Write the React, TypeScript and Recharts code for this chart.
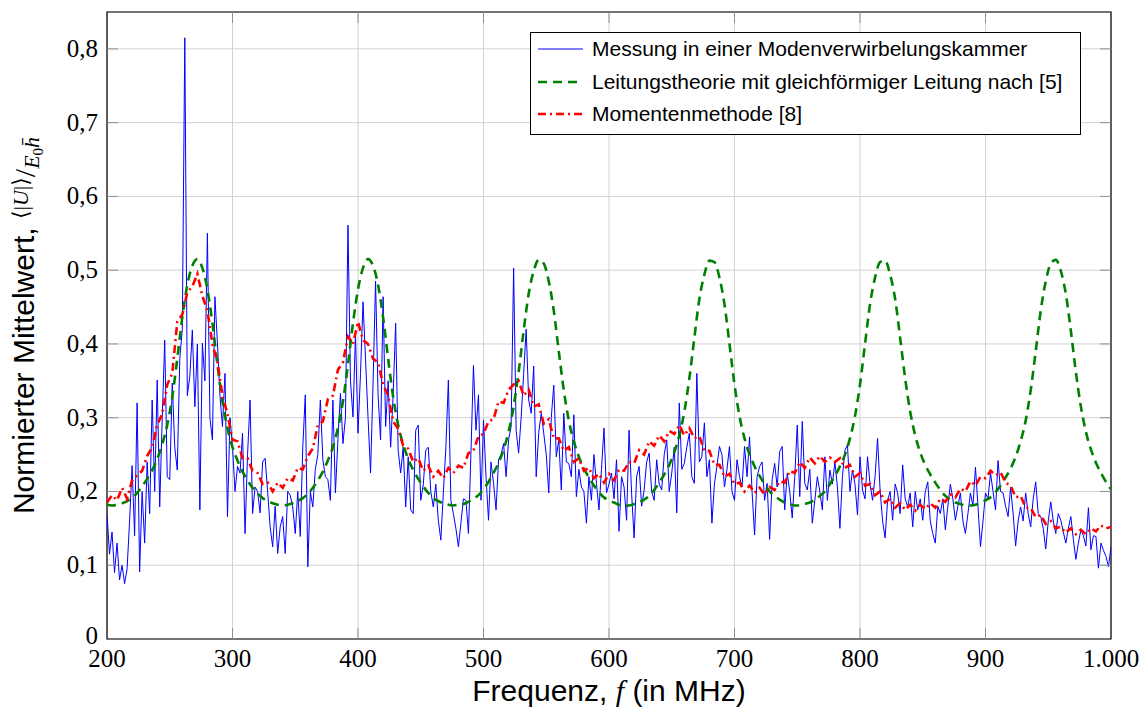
import { CartesianGrid, Line, LineChart, ReferenceArea, XAxis, YAxis } from "recharts";

// Messung in einer Modenverwirbelungskammer, 2 MHz raster ab 200 MHz
const MEASURED = [
  0.17, 0.115, 0.145, 0.09, 0.13, 0.08, 0.1, 0.075, 0.095, 0.16,
  0.235, 0.14, 0.32, 0.091, 0.2, 0.13, 0.24, 0.17, 0.324, 0.2,
  0.351, 0.179, 0.3, 0.405, 0.22, 0.216, 0.347, 0.26, 0.229, 0.38,
  0.42, 0.815, 0.33, 0.356, 0.419, 0.315, 0.4, 0.175, 0.401, 0.35,
  0.55, 0.3, 0.27, 0.464, 0.401, 0.33, 0.288, 0.36, 0.166, 0.3,
  0.261, 0.2, 0.234, 0.225, 0.279, 0.143, 0.25, 0.324, 0.17, 0.206,
  0.2, 0.171, 0.24, 0.245, 0.2, 0.152, 0.125, 0.18, 0.116, 0.152,
  0.166, 0.116, 0.2, 0.195, 0.179, 0.143, 0.2, 0.139, 0.26, 0.331,
  0.098, 0.2, 0.179, 0.23, 0.25, 0.324, 0.243, 0.22, 0.216, 0.188,
  0.324, 0.198, 0.27, 0.333, 0.265, 0.3, 0.561, 0.35, 0.301, 0.414,
  0.279, 0.36, 0.457, 0.38, 0.3, 0.225, 0.347, 0.485, 0.33, 0.27,
  0.464, 0.288, 0.35, 0.26, 0.33, 0.428, 0.256, 0.225, 0.26, 0.179,
  0.247, 0.175, 0.17, 0.283, 0.29, 0.188, 0.209, 0.256, 0.26, 0.2,
  0.179, 0.21, 0.161, 0.134, 0.198, 0.259, 0.351, 0.188, 0.17, 0.15,
  0.125, 0.157, 0.19, 0.188, 0.143, 0.252, 0.371, 0.283, 0.331, 0.188,
  0.297, 0.22, 0.161, 0.24, 0.211, 0.175, 0.243, 0.25, 0.265, 0.22,
  0.27, 0.288, 0.503, 0.283, 0.252, 0.3, 0.36, 0.42, 0.324, 0.306,
  0.37, 0.22, 0.28, 0.306, 0.279, 0.25, 0.198, 0.3, 0.344, 0.247,
  0.27, 0.202, 0.306, 0.24, 0.238, 0.22, 0.304, 0.193, 0.23, 0.206,
  0.2, 0.157, 0.22, 0.188, 0.25, 0.211, 0.175, 0.23, 0.286, 0.198,
  0.21, 0.225, 0.19, 0.243, 0.146, 0.22, 0.206, 0.161, 0.283, 0.198,
  0.137, 0.22, 0.234, 0.18, 0.202, 0.24, 0.252, 0.2, 0.188, 0.243,
  0.21, 0.202, 0.25, 0.27, 0.2, 0.225, 0.26, 0.171, 0.32, 0.23,
  0.238, 0.26, 0.279, 0.22, 0.211, 0.36, 0.24, 0.247, 0.293, 0.22,
  0.243, 0.157, 0.21, 0.234, 0.261, 0.25, 0.206, 0.23, 0.261, 0.2,
  0.188, 0.243, 0.22, 0.206, 0.261, 0.22, 0.274, 0.2, 0.141, 0.22,
  0.234, 0.24, 0.188, 0.211, 0.135, 0.216, 0.238, 0.206, 0.254, 0.261,
  0.175, 0.225, 0.2, 0.164, 0.22, 0.29, 0.193, 0.295, 0.211, 0.202,
  0.23, 0.157, 0.188, 0.22, 0.2, 0.175, 0.247, 0.188, 0.229, 0.21,
  0.24, 0.206, 0.15, 0.22, 0.256, 0.263, 0.2, 0.229, 0.21, 0.168,
  0.247, 0.202, 0.19, 0.247, 0.21, 0.188, 0.22, 0.272, 0.202, 0.16,
  0.137, 0.188, 0.2, 0.161, 0.21, 0.198, 0.17, 0.236, 0.19, 0.179,
  0.198, 0.152, 0.2, 0.175, 0.19, 0.161, 0.2, 0.213, 0.16, 0.143,
  0.13, 0.18, 0.17, 0.19, 0.148, 0.18, 0.21, 0.19, 0.161, 0.18,
  0.198, 0.16, 0.143, 0.17, 0.198, 0.18, 0.233, 0.18, 0.125, 0.16,
  0.198, 0.19, 0.225, 0.2, 0.175, 0.242, 0.2, 0.198, 0.18, 0.166,
  0.206, 0.17, 0.126, 0.16, 0.179, 0.16, 0.198, 0.17, 0.152, 0.19,
  0.213, 0.17, 0.166, 0.15, 0.122, 0.16, 0.186, 0.16, 0.143, 0.17,
  0.161, 0.145, 0.13, 0.15, 0.166, 0.135, 0.108, 0.13, 0.148, 0.14,
  0.126, 0.178, 0.121, 0.14, 0.139, 0.096, 0.13, 0.12, 0.112, 0.098,
  0.125,
];

// Leitungstheorie, 4 MHz raster ab 200 MHz
const LINE_THEORY = [
  0.182, 0.181, 0.182, 0.184, 0.187, 0.191, 0.198, 0.207, 0.217, 0.229,
  0.244, 0.264, 0.29, 0.328, 0.38, 0.436, 0.48, 0.506, 0.515, 0.503,
  0.474, 0.428, 0.372, 0.322, 0.286, 0.26, 0.242, 0.227, 0.215, 0.205,
  0.197, 0.191, 0.187, 0.184, 0.182, 0.181, 0.182, 0.184, 0.187, 0.191,
  0.197, 0.205, 0.215, 0.227, 0.242, 0.26, 0.286, 0.322, 0.372, 0.428,
  0.474, 0.503, 0.515, 0.506, 0.48, 0.436, 0.38, 0.328, 0.29, 0.264,
  0.244, 0.229, 0.217, 0.207, 0.198, 0.191, 0.187, 0.184, 0.182, 0.181,
  0.182, 0.183, 0.186, 0.19, 0.195, 0.203, 0.213, 0.225, 0.239, 0.257,
  0.281, 0.315, 0.362, 0.418, 0.468, 0.499, 0.514, 0.509, 0.485, 0.445,
  0.39, 0.337, 0.296, 0.268, 0.247, 0.231, 0.219, 0.208, 0.199, 0.192,
  0.188, 0.185, 0.182, 0.181, 0.181, 0.183, 0.185, 0.189, 0.194, 0.202,
  0.212, 0.223, 0.236, 0.253, 0.276, 0.308, 0.353, 0.408, 0.461, 0.494,
  0.513, 0.511, 0.49, 0.454, 0.4, 0.345, 0.302, 0.272, 0.25, 0.234,
  0.221, 0.21, 0.2, 0.194, 0.189, 0.185, 0.183, 0.181, 0.181, 0.183,
  0.185, 0.189, 0.194, 0.2, 0.21, 0.221, 0.234, 0.25, 0.272, 0.302,
  0.345, 0.4, 0.454, 0.49, 0.511, 0.513, 0.494, 0.461, 0.408, 0.353,
  0.308, 0.276, 0.253, 0.236, 0.223, 0.212, 0.202, 0.194, 0.189, 0.185,
  0.183, 0.181, 0.181, 0.182, 0.185, 0.188, 0.192, 0.199, 0.208, 0.219,
  0.231, 0.247, 0.268, 0.296, 0.337, 0.39, 0.445, 0.485, 0.509, 0.514,
  0.499, 0.468, 0.418, 0.362, 0.315, 0.281, 0.257, 0.239, 0.225, 0.213,
  0.203,
];

// Momentenmethode, 4 MHz raster ab 200 MHz
const MOM = [
  0.185, 0.195, 0.188, 0.205, 0.19, 0.215, 0.222, 0.228, 0.248, 0.26,
  0.29, 0.305, 0.345, 0.36, 0.43, 0.44, 0.47, 0.478, 0.495, 0.465,
  0.445, 0.4, 0.375, 0.33, 0.305, 0.27, 0.268, 0.245, 0.245, 0.228,
  0.225, 0.21, 0.212, 0.2, 0.212, 0.205, 0.218, 0.215, 0.232, 0.23,
  0.248, 0.258, 0.29, 0.295, 0.325, 0.33, 0.365, 0.375, 0.41, 0.4,
  0.43, 0.405, 0.4, 0.38, 0.375, 0.345, 0.33, 0.295, 0.285, 0.262,
  0.258, 0.24, 0.245, 0.228, 0.235, 0.22, 0.228, 0.218, 0.232, 0.225,
  0.235, 0.232, 0.252, 0.255, 0.275, 0.278, 0.295, 0.298, 0.322, 0.32,
  0.338, 0.345, 0.35, 0.33, 0.338, 0.315, 0.318, 0.292, 0.298, 0.272,
  0.272, 0.255, 0.26, 0.24, 0.245, 0.228, 0.232, 0.218, 0.224, 0.212,
  0.224, 0.215, 0.23, 0.228, 0.24, 0.238, 0.256, 0.25, 0.268, 0.262,
  0.276, 0.268, 0.282, 0.278, 0.29, 0.276, 0.286, 0.272, 0.275, 0.255,
  0.255, 0.236, 0.236, 0.22, 0.224, 0.21, 0.212, 0.2, 0.208, 0.198,
  0.205, 0.196, 0.206, 0.202, 0.214, 0.212, 0.228, 0.225, 0.24, 0.232,
  0.246, 0.238, 0.248, 0.24, 0.246, 0.24, 0.245, 0.232, 0.236, 0.22,
  0.225, 0.208, 0.21, 0.195, 0.2, 0.185, 0.19, 0.178, 0.184, 0.175,
  0.182, 0.174, 0.182, 0.176, 0.184, 0.178, 0.19, 0.186, 0.196, 0.192,
  0.204, 0.2, 0.214, 0.208, 0.22, 0.218, 0.228, 0.222, 0.226, 0.212,
  0.208, 0.192, 0.194, 0.178, 0.178, 0.165, 0.168, 0.156, 0.16, 0.15,
  0.152, 0.144, 0.15, 0.142, 0.148, 0.142, 0.15, 0.146, 0.154, 0.15,
  0.152,
];

const X_TICKS = [200, 300, 400, 500, 600, 700, 800, 900, 1000];
const Y_TICKS = [0, 0.1, 0.2, 0.3, 0.4, 0.5, 0.6, 0.7, 0.8];

const measuredData = MEASURED.map((v, i) => ({ f: 200 + 2 * i, v }));
const theoryData = LINE_THEORY.map((v, i) => ({ f: 200 + 4 * i, v }));
const momData = MOM.map((v, i) => ({ f: 200 + 4 * i, v }));

const SANS = "'Liberation Sans', Arial, Helvetica, sans-serif";
const SERIF = "'Liberation Serif', 'DejaVu Serif', serif";

const W = 1132;
const H = 700;
const PLOT = { left: 99, right: 1103, top: 4, bottom: 631 };
const TICK_LEN = 11;
const TICK_COLOR = "#8f8f8f";

const SERIES = [
  { name: "Messung in einer Modenverwirbelungskammer", data: measuredData, color: "#0000ff", width: 1, dash: undefined, type: "linear" },
  { name: "Leitungstheorie mit gleichförmiger Leitung nach [5]", data: theoryData, color: "#008000", width: 2.6, dash: "9 6", type: "monotone" },
  { name: "Momentenmethode [8]", data: momData, color: "#ff0000", width: 2.6, dash: "8 4 2 4", type: "linear" },
] as const;

function fmtX(v: number) {
  return v === 1000 ? "1.000" : String(v);
}

function fmtY(v: number) {
  return v === 0 ? "0" : v.toFixed(1).replace(".", ",");
}

function XTick({ x, payload }: any) {
  const v = payload.value;
  const edge = v === 200 || v === 1000;
  return (
    <g>
      {!edge && <line x1={x} x2={x} y1={PLOT.bottom} y2={PLOT.bottom - TICK_LEN} stroke={TICK_COLOR} />}
      {!edge && <line x1={x} x2={x} y1={PLOT.top} y2={PLOT.top + TICK_LEN} stroke={TICK_COLOR} />}
      <text x={x} y={PLOT.bottom + 28} textAnchor="middle" fontFamily={SERIF} fontSize={25} fill="#000">
        {fmtX(v)}
      </text>
    </g>
  );
}

function YTick({ y, payload }: any) {
  const v = payload.value;
  return (
    <g>
      {v !== 0 && <line x1={PLOT.left} x2={PLOT.left + TICK_LEN} y1={y} y2={y} stroke={TICK_COLOR} />}
      {v !== 0 && <line x1={PLOT.right - TICK_LEN} x2={PLOT.right} y1={y} y2={y} stroke={TICK_COLOR} />}
      <text x={PLOT.left - 9} y={v === 0 ? y + 5 : y + 8} textAnchor="end" fontFamily={SERIF} fontSize={25} fill="#000">
        {fmtY(v)}
      </text>
    </g>
  );
}

function XTitle() {
  const cx = (PLOT.left + PLOT.right) / 2;
  return (
    <text x={cx} y={PLOT.bottom + 62} textAnchor="middle" fontFamily={SANS} fontSize={30} fill="#000">
      {"Frequenz, "}
      <tspan fontFamily={SERIF} fontStyle="italic">f</tspan>
      {" (in MHz)"}
    </text>
  );
}

function YTitle() {
  const cy = (PLOT.top + PLOT.bottom) / 2;
  return (
    <text transform={`translate(26,${cy}) rotate(-90)`} textAnchor="middle" fontFamily={SANS} fontSize={30} fill="#000">
      {"Normierter Mittelwert, "}
      <tspan fontFamily={SERIF} fontSize={22} dy={-6}>
        {"⟨|"}
        <tspan fontStyle="italic">U</tspan>
        {"|⟩"}
      </tspan>
      <tspan fontFamily={SERIF} fontSize={30} dy={7}>/</tspan>
      <tspan fontFamily={SERIF} fontSize={22} fontStyle="italic" dy={4}>E</tspan>
      <tspan fontFamily={SERIF} fontSize={15} dy={4}>0</tspan>
      <tspan fontFamily={SERIF} fontSize={22} fontStyle="italic" dy={-4}>{"h\u0304"}</tspan>
    </text>
  );
}

function LegendBox() {
  return (
    <div
      style={{
        position: "absolute",
        left: 522,
        top: 24,
        width: 551,
        height: 103,
        border: "1px solid #000",
        background: "#fff",
        boxSizing: "border-box",
      }}
    >
      {SERIES.map((s, i) => (
        <div
          key={s.name}
          style={{ position: "absolute", left: 0, top: i * 32.5, height: 32, display: "flex", alignItems: "center" }}
        >
          <svg width={61} height={32}>
            <line x1={7} x2={52} y1={16} y2={16} stroke={s.color} strokeWidth={s.width} strokeDasharray={s.dash} />
          </svg>
          <span style={{ fontFamily: SANS, fontSize: 21, color: "#000", whiteSpace: "nowrap" }}>{s.name}</span>
        </div>
      ))}
    </div>
  );
}

export default function App() {
  return (
    <div style={{ position: "relative", width: W, height: H }}>
      <LineChart width={W} height={H} margin={{ top: PLOT.top, right: W - PLOT.right, bottom: 0, left: 0 }}>
        <CartesianGrid stroke="#d2d2d2" strokeWidth={1} />
        <XAxis
          dataKey="f"
          type="number"
          domain={[200, 1000]}
          ticks={X_TICKS}
          interval={0}
          allowDataOverflow
          height={H - PLOT.bottom}
          axisLine={false}
          tickLine={false}
          tick={<XTick />}
          label={<XTitle />}
        />
        <YAxis
          type="number"
          domain={[0, 0.85]}
          ticks={Y_TICKS}
          interval={0}
          allowDataOverflow
          width={PLOT.left}
          axisLine={false}
          tickLine={false}
          tick={<YTick />}
          label={<YTitle />}
        />
        {SERIES.map((s) => (
          <Line
            key={s.name}
            data={s.data as any}
            dataKey="v"
            name={s.name}
            type={s.type}
            stroke={s.color}
            strokeWidth={s.width}
            strokeDasharray={s.dash}
            dot={false}
            activeDot={false}
            isAnimationActive={false}
          />
        ))}
        <ReferenceArea x1={200} x2={1000} y1={0} y2={0.85} fill="none" stroke="#000" strokeWidth={1.2} ifOverflow="visible" />
      </LineChart>
      <LegendBox />
    </div>
  );
}
